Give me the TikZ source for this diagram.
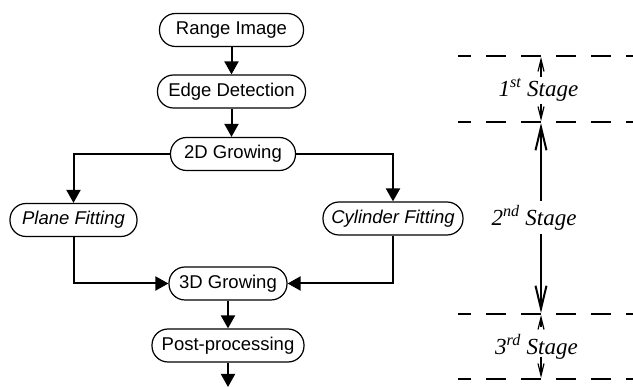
\documentclass[tikz,border=0pt]{standalone}
\usepackage{fontspec}
\setmainfont{Liberation Serif}
\newfontfamily\arialfont{Liberation Sans}
\usetikzlibrary{arrows.meta}
\begin{document}
\begin{tikzpicture}[x=1pt,y=-1pt,
  box/.style={draw, line width=1.2pt, rounded corners=16pt, minimum height=33pt, inner sep=0pt,
    font=\arialfont\fontsize{18.5}{22}\selectfont},
  conn/.style={line width=2pt, -{Triangle[length=13pt,width=14pt]}},
  dashline/.style={line width=2pt, dash pattern=on 20pt off 15pt, dash phase=7pt},
  dimthin/.style={line width=1.2pt, -{Straight Barb[length=12pt,width=6pt]}},
  dimthick/.style={line width=2pt, -{Straight Barb[length=23pt,width=11pt]}},
  stage/.style={inner sep=0pt, font=\fontsize{23}{26}\selectfont\itshape}]
\useasboundingbox (0,0) rectangle (633,387);

% flowchart
\node[box, minimum width=144pt] (range) at (231.5,30) {Range Image};
\node[box, minimum width=148pt] (edge) at (231.5,91.5) {Edge Detection};
\node[box, minimum width=125pt] (g2d) at (233,154) {2D Growing};
\node[box, minimum width=127pt] (plane) at (73.5,220) {\itshape Plane Fitting};
\node[box, minimum width=140pt] (cyl) at (393,218.5) {\itshape Cylinder Fitting};
\node[box, minimum width=118pt] (g3d) at (228,283.5) {3D Growing};
\node[box, minimum width=152pt] (post) at (228,345.5) {Post-processing};
\coordinate (end) at (228,387);

\draw[conn] (range) -- (edge);
\draw[conn] (edge.south) -- (edge.south |- g2d.north);
\draw[conn] (g2d.west) -| (plane.north);
\draw[conn] (g2d.east) -| (cyl.north);
\draw[conn] (plane.south) |- (g3d.west);
\draw[conn] (cyl.south) |- (g3d.east);
\draw[conn] (g3d) -- (post);
\draw[conn] (post) -- (end);

% stage guides
\coordinate (d1l) at (458,56);  \coordinate (d1r) at (633,56);
\coordinate (d2l) at (458,122); \coordinate (d2r) at (633,122);
\coordinate (d3l) at (458,314); \coordinate (d3r) at (633,314);
\coordinate (d4l) at (458,379); \coordinate (d4r) at (633,379);
\draw[dashline] (d1l) -- (d1r);
\draw[dashline] (d2l) -- (d2r);
\draw[dashline] (d3l) -- (d3r);
\draw[dashline] (d4l) -- (d4r);

\node[stage] (s1) at (538.5,90) {1\textsuperscript{st} Stage};
\node[stage] (s2) at (534,218) {2\textsuperscript{nd} Stage};
\node[stage] (s3) at (536.5,347) {3\textsuperscript{rd} Stage};

\coordinate (a1t) at (541,77);  \coordinate (a1b) at (541,104);
\coordinate (a2t) at (541,201); \coordinate (a2b) at (541,234);
\coordinate (a3t) at (541,327); \coordinate (a3b) at (541,357);

\draw[dimthin] (a1t) -- (541,57);
\draw[dimthin] (a1b) -- (541,121);
\draw[dimthick] (a2t) -- (541,123);
\draw[dimthick] (a2b) -- (541,313);
\draw[dimthin] (a3t) -- (541,315);
\draw[dimthin] (a3b) -- (541,378);
\end{tikzpicture}
\end{document}
